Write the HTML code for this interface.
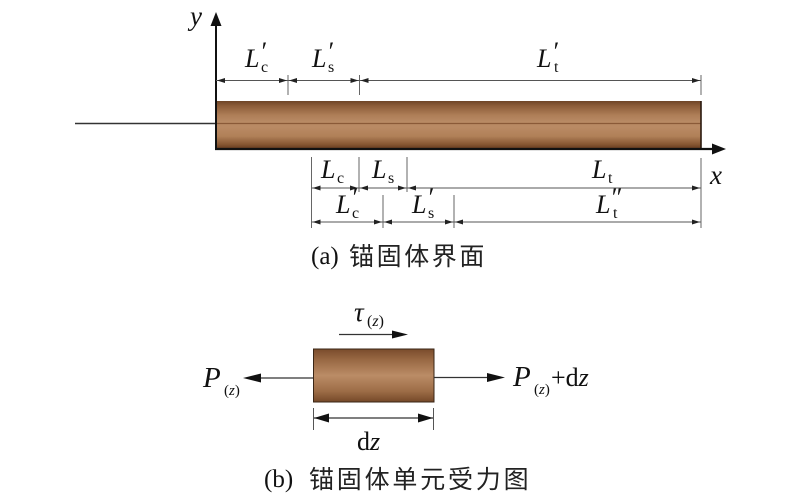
<!DOCTYPE html>
<html>
<head>
<meta charset="utf-8">
<style>
  html,body{margin:0;padding:0;background:#fff;}
  svg{display:block;}
  .it{font-family:"Liberation Serif",serif;font-style:italic;fill:#111;}
  .rm{font-family:"Liberation Serif",serif;font-style:normal;fill:#111;}
  .cjk{font-family:"Liberation Serif","Noto Sans CJK SC",sans-serif;fill:#222;}
</style>
</head>
<body>
<svg width="800" height="499" viewBox="0 0 800 499" xmlns="http://www.w3.org/2000/svg">
  <defs>
    <linearGradient id="bar" x1="0" y1="0" x2="0" y2="1">
      <stop offset="0" stop-color="#6e4426"/>
      <stop offset="0.1" stop-color="#8c5c38"/>
      <stop offset="0.3" stop-color="#ae7e57"/>
      <stop offset="0.44" stop-color="#b88a64"/>
      <stop offset="0.56" stop-color="#b98a64"/>
      <stop offset="0.75" stop-color="#b08058"/>
      <stop offset="0.92" stop-color="#875733"/>
      <stop offset="1" stop-color="#6a3f22"/>
    </linearGradient>
    <linearGradient id="el" x1="0" y1="0" x2="0" y2="1">
      <stop offset="0" stop-color="#7a4c2c"/>
      <stop offset="0.2" stop-color="#986843"/>
      <stop offset="0.5" stop-color="#bb8c66"/>
      <stop offset="0.8" stop-color="#9c6c46"/>
      <stop offset="1" stop-color="#754828"/>
    </linearGradient>
  </defs>

  <!-- left rod line -->
  <line x1="75" y1="123.5" x2="216" y2="123.5" stroke="#333" stroke-width="1.6"/>

  <!-- bar -->
  <rect x="216" y="101" width="485" height="47" fill="url(#bar)"/>
  <line x1="216" y1="123.5" x2="701" y2="123.5" stroke="#8a5a38" stroke-width="1.2"/>
  <line x1="701" y1="101" x2="701" y2="148" stroke="#2a1a10" stroke-width="1.6"/>

  <!-- y axis -->
  <line x1="216" y1="149" x2="216" y2="24" stroke="#111" stroke-width="2"/>
  <polygon points="216,12 210.5,26 221.5,26" fill="#111"/>
  <text class="it" x="190" y="25" font-size="27">y</text>

  <!-- x axis -->
  <line x1="215" y1="149" x2="714" y2="149" stroke="#111" stroke-width="2.2"/>
  <polygon points="726,149 712,143.5 712,154.5" fill="#111"/>
  <text class="it" x="710" y="184" font-size="27">x</text>

  <!-- dimension ticks -->
  <g stroke="#666" stroke-width="1">
    <line x1="288" y1="75" x2="288" y2="95"/>
    <line x1="359.5" y1="75" x2="359.5" y2="95"/>
    <line x1="701" y1="75" x2="701" y2="95"/>
    <line x1="311.5" y1="157" x2="311.5" y2="228"/>
    <line x1="359" y1="157" x2="359" y2="192"/>
    <line x1="407" y1="157" x2="407" y2="192"/>
    <line x1="383" y1="195" x2="383" y2="228"/>
    <line x1="454" y1="195" x2="454" y2="228"/>
    <line x1="701" y1="158" x2="701" y2="228"/>
  </g>

  <!-- dimension lines -->
  <g stroke="#555" stroke-width="1">
    <line x1="216" y1="80.5" x2="701" y2="80.5"/>
    <line x1="311.5" y1="188" x2="701" y2="188"/>
    <line x1="311.5" y1="222" x2="701" y2="222"/>
  </g>

  <!-- small arrowheads -->
  <g fill="#222">
    <polygon points="217,80.5 225,78 225,83"/>
    <polygon points="287,80.5 279,78 279,83"/>
    <polygon points="289,80.5 297,78 297,83"/>
    <polygon points="358.5,80.5 350.5,78 350.5,83"/>
    <polygon points="360.5,80.5 368.5,78 368.5,83"/>
    <polygon points="700,80.5 692,78 692,83"/>
    <polygon points="312.5,188 320.5,185.5 320.5,190.5"/>
    <polygon points="358,188 350,185.5 350,190.5"/>
    <polygon points="360,188 368,185.5 368,190.5"/>
    <polygon points="406,188 398,185.5 398,190.5"/>
    <polygon points="408,188 416,185.5 416,190.5"/>
    <polygon points="700,188 692,185.5 692,190.5"/>
    <polygon points="312.5,222 320.5,219.5 320.5,224.5"/>
    <polygon points="382,222 374,219.5 374,224.5"/>
    <polygon points="384,222 392,219.5 392,224.5"/>
    <polygon points="453,222 445,219.5 445,224.5"/>
    <polygon points="455,222 463,219.5 463,224.5"/>
    <polygon points="700,222 692,219.5 692,224.5"/>
  </g>

  <!-- top labels -->
  <text class="it" x="245" y="67" font-size="26">L</text>
  <text class="it" x="260" y="60" font-size="26">′</text>
  <text class="rm" x="261" y="72" font-size="16">c</text>

  <text class="it" x="312" y="67" font-size="26">L</text>
  <text class="it" x="327" y="60" font-size="26">′</text>
  <text class="rm" x="328" y="72" font-size="16">s</text>

  <text class="it" x="537" y="67" font-size="26">L</text>
  <text class="it" x="552" y="60" font-size="26">′</text>
  <text class="rm" x="554" y="72" font-size="16">t</text>

  <!-- row 1 labels -->
  <text class="it" x="321" y="178" font-size="26">L</text>
  <text class="rm" x="337" y="183" font-size="16">c</text>

  <text class="it" x="372" y="178" font-size="26">L</text>
  <text class="rm" x="388" y="183" font-size="16">s</text>

  <text class="it" x="592" y="178" font-size="26">L</text>
  <text class="rm" x="608" y="183" font-size="16">t</text>

  <!-- row 2 labels -->
  <text class="it" x="336" y="213" font-size="26">L</text>
  <text class="it" x="351" y="206" font-size="26">′</text>
  <text class="rm" x="352" y="218" font-size="16">c</text>

  <text class="it" x="412" y="213" font-size="26">L</text>
  <text class="it" x="427" y="206" font-size="26">′</text>
  <text class="rm" x="428" y="218" font-size="16">s</text>

  <text class="it" x="596" y="213" font-size="26">L</text>
  <text class="it" x="610" y="206" font-size="26">″</text>
  <text class="rm" x="613" y="218" font-size="16">t</text>

  <!-- caption (a) -->
  <text class="rm" x="311" y="264" font-size="25">(a)</text>
  <text class="cjk" x="349" y="265" font-size="25" letter-spacing="2.6">锚固体界面</text>

  <!-- element (b) -->
  <rect x="313.5" y="349" width="120.5" height="53" fill="url(#el)" stroke="#3a2616" stroke-width="1"/>

  <!-- tau arrow -->
  <line x1="339" y1="334.5" x2="394" y2="334.5" stroke="#333" stroke-width="1.2"/>
  <polygon points="408,334.5 392,330.5 392,338.5" fill="#111"/>
  <text class="it" x="354" y="321" font-size="27">τ</text>
  <text x="367" y="326" font-size="16"><tspan class="rm">(</tspan><tspan class="it">z</tspan><tspan class="rm">)</tspan></text>

  <!-- left force arrow -->
  <line x1="313" y1="378" x2="259" y2="378" stroke="#333" stroke-width="1.2"/>
  <polygon points="243,378 261,373.5 261,382.5" fill="#111"/>
  <text class="it" x="203" y="387" font-size="29">P</text>
  <text x="224" y="395" font-size="15"><tspan class="rm">(</tspan><tspan class="it">z</tspan><tspan class="rm">)</tspan></text>

  <!-- right force arrow -->
  <line x1="434" y1="377.5" x2="489" y2="377.5" stroke="#333" stroke-width="1.2"/>
  <polygon points="505,377.5 487,373 487,382" fill="#111"/>
  <text class="it" x="513" y="386" font-size="29">P</text>
  <text x="534" y="394" font-size="15"><tspan class="rm">(</tspan><tspan class="it">z</tspan><tspan class="rm">)</tspan></text>
  <text x="551" y="386" font-size="26"><tspan class="rm">+d</tspan><tspan class="it">z</tspan></text>

  <!-- dz dimension -->
  <line x1="313.5" y1="408" x2="313.5" y2="430" stroke="#555" stroke-width="1"/>
  <line x1="433.5" y1="408" x2="433.5" y2="430" stroke="#555" stroke-width="1"/>
  <line x1="314" y1="418" x2="433" y2="418" stroke="#333" stroke-width="1.2"/>
  <polygon points="314,418 329,413.5 329,422.5" fill="#111"/>
  <polygon points="433,418 418,413.5 418,422.5" fill="#111"/>
  <text x="357" y="450" font-size="26"><tspan class="rm">d</tspan><tspan class="it">z</tspan></text>

  <!-- caption (b) -->
  <text class="rm" x="264" y="487" font-size="25">(b)</text>
  <text class="cjk" x="309" y="488" font-size="25" letter-spacing="2.8">锚固体单元受力图</text>
</svg>
</body>
</html>
